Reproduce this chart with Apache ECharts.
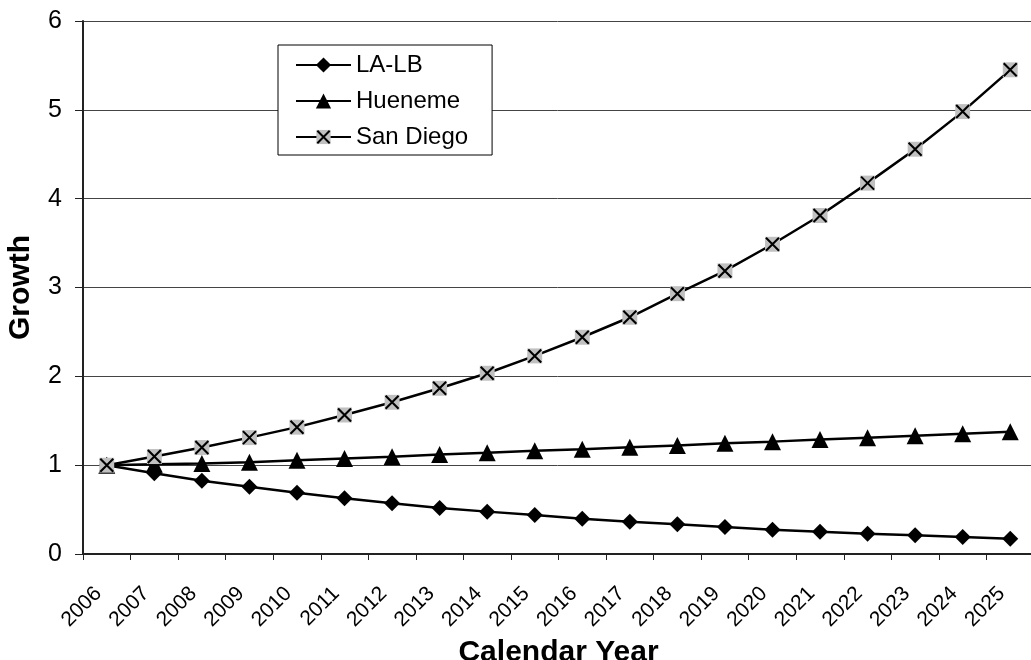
<!DOCTYPE html>
<html>
<head>
<meta charset="utf-8">
<script src="https://cdn.jsdelivr.net/npm/echarts@6/dist/echarts.min.js"></script>
<style>
html,body{margin:0;padding:0;background:#fff;}
#chart{width:1031px;height:660px;}
</style>
</head>
<body>
<div id="chart"></div>
<script>
const years = ['2006','2007','2008','2009','2010','2011','2012','2013','2014','2015','2016','2017','2018','2019','2020','2021','2022','2023','2024','2025'];
const laLb = [1.00,0.91,0.825,0.758,0.69,0.628,0.572,0.518,0.477,0.438,0.398,0.364,0.334,0.304,0.273,0.251,0.227,0.21,0.19,0.172];
const hueneme = [1.00,1.01,1.02,1.034,1.055,1.075,1.095,1.12,1.14,1.162,1.18,1.203,1.222,1.246,1.265,1.288,1.31,1.332,1.355,1.377];
const sanDiego = [1.00,1.097,1.198,1.31,1.428,1.565,1.708,1.866,2.035,2.23,2.44,2.665,2.93,3.187,3.487,3.81,4.175,4.557,4.98,5.45];
const yTicks = [0,1,2,3,4,5,6];

const xSvg = "<svg xmlns='http://www.w3.org/2000/svg' width='32' height='32' viewBox='0 0 32 32'>" +
  "<rect x='1' y='1' width='30' height='30' fill='#c0c0c0'/>" +
  "<path d='M3 3L29 29M29 3L3 29' stroke='#000' stroke-width='4.2' fill='none'/></svg>";
const xSymbol = 'image://data:image/svg+xml;charset=utf-8,' + encodeURIComponent(xSvg);

const chart = echarts.init(document.getElementById('chart'), null, {renderer:'canvas'});
const font = 'Arial, "Liberation Sans", sans-serif';
chart.setOption({
  animation: false,
  backgroundColor: '#fff',
  grid: {left: 83, top: 21, width: 951, height: 533, containLabel: false, outerBoundsMode: 'none'},
  legend: {
    orient: 'vertical',
    left: 278, top: 45,
    padding: [8, 24, 6, 17],
    itemWidth: 55, itemHeight: 19, itemGap: 12,
    borderColor: '#000', borderWidth: 1,
    backgroundColor: '#fff',
    textStyle: {fontFamily: font, fontSize: 24, color: '#000', lineHeight: 24},
    data: ['LA-LB','Hueneme','San Diego']
  },
  xAxis: {
    type: 'category',
    data: years,
    boundaryGap: true,
    name: 'Calendar Year',
    nameLocation: 'middle',
    nameGap: 73,
    nameTextStyle: {fontFamily: font, fontSize: 30, fontWeight: 'bold', color: '#000'},
    axisLine: {lineStyle: {color: '#222', width: 2}},
    axisTick: {show: true, alignWithLabel: false, length: 6, lineStyle: {color: '#222', width: 1}},
    axisLabel: {rotate: 45, margin: 28, interval: 0, padding: [0, 12, 0, 0], fontFamily: font, fontSize: 21, color: '#000'},
    splitLine: {show: false}
  },
  yAxis: {
    type: 'value',
    min: 0, max: 6, interval: 1,
    name: 'Growth',
    nameLocation: 'middle',
    nameRotate: 90,
    nameGap: 47,
    nameTextStyle: {fontFamily: font, fontSize: 30, fontWeight: 'bold', color: '#000'},
    axisLine: {show: true, lineStyle: {color: '#222', width: 2}},
    axisTick: {show: true, length: 8, lineStyle: {color: '#222', width: 1}},
    axisLabel: {margin: 21, fontFamily: font, fontSize: 25, color: '#000',
      formatter: v => yTicks.indexOf(v) >= 0 ? String(v) : ''},
    splitLine: {show: true, lineStyle: {color: '#444', width: 1}}
  },
  series: [
    {name: 'LA-LB', type: 'line', data: laLb, symbol: 'diamond', symbolSize: 16,
      itemStyle: {color: '#000'}, lineStyle: {color: '#000', width: 2.5}, z: 3},
    {name: 'Hueneme', type: 'line', data: hueneme, symbol: 'triangle', symbolSize: 17,
      itemStyle: {color: '#000'}, lineStyle: {color: '#000', width: 2.5}, z: 2},
    {name: 'San Diego', type: 'line', data: sanDiego, symbol: xSymbol, symbolSize: 16,
      itemStyle: {color: '#000'}, lineStyle: {color: '#000', width: 2.5}, z: 4}
  ]
});
</script>
</body>
</html>
